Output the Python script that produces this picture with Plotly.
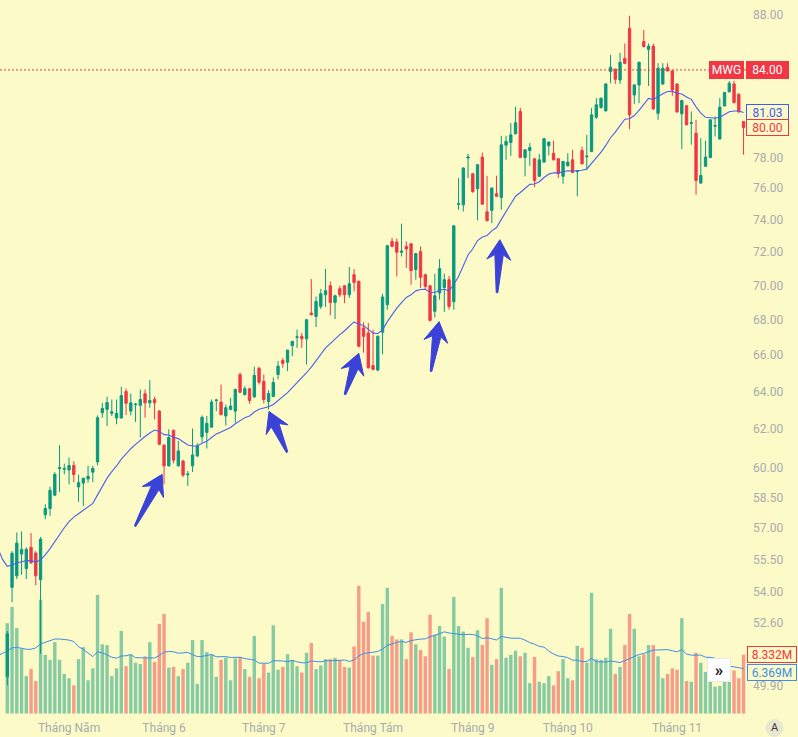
import math
import plotly.graph_objects as go

# ---------------- data ----------------
idx = list(range(156))
open_ = [50.27, 54.22, 54.75, 55.77, 55.09, 56.09, 55.82, 54.57, 57.65, 57.96,
         58.62, 59.96, 59.92, 59.88, 60.11, 59.03, 59.22, 59.43, 59.77, 60.29,
         62.85, 63.03, 62.83, 62.57, 62.57, 63.99, 62.94, 63.28, 63.25, 63.87,
         63.38, 63.56, 62.94, 61.15, 60.09, 61.93, 60.09, 60.34, 59.64, 60.09,
         60.60, 61.58, 61.81, 62.09, 63.50, 63.42, 62.68, 63.03, 62.94, 64.91,
         63.83, 64.14, 63.70, 65.26, 64.54, 63.45, 63.72, 64.92, 65.69, 65.60,
         66.52, 66.99, 67.05, 66.91, 68.38, 68.19, 68.77, 69.45, 69.98, 69.00,
         69.81, 69.98, 69.45, 70.64, 70.24, 67.53, 67.24, 65.42, 65.16, 67.28,
         68.87, 72.66, 72.62, 71.99, 72.35, 72.51, 70.94, 72.03, 70.64, 69.98,
         68.48, 69.55, 69.88, 70.34, 69.04, 74.97, 74.94, 77.97, 76.94, 75.97,
         78.03, 74.50, 74.59, 75.65, 75.41, 78.82, 79.00, 79.58, 81.10, 78.00,
         78.47, 77.92, 76.77, 77.70, 78.78, 78.29, 77.92, 76.77, 77.46, 77.85,
         77.07, 78.47, 78.05, 78.40, 80.71, 81.37, 81.14, 83.88, 84.05, 83.29,
         84.83, 87.01, 82.24, 82.94, 86.04, 85.47, 85.71, 80.97, 83.01, 84.17,
         83.93, 83.01, 80.94, 81.49, 80.29, 79.62, 76.33, 77.42, 78.00, 80.10,
         79.23, 81.48, 82.47, 83.01, 82.29, 80.41]
high = [52.26, 55.91, 56.80, 56.85, 56.09, 56.77, 55.91, 56.58, 58.17, 59.04,
        59.77, 61.15, 60.20, 60.52, 60.33, 59.65, 59.50, 60.09, 60.09, 62.71,
        63.38, 63.71, 63.56, 63.56, 64.25, 64.15, 63.88, 63.38, 64.10, 64.10,
        64.61, 63.71, 62.99, 61.20, 61.98, 61.95, 61.37, 60.40, 59.83, 62.02,
        61.25, 62.71, 62.68, 63.56, 63.60, 64.37, 63.29, 63.65, 64.15, 65.02,
        64.28, 64.20, 65.35, 65.35, 64.92, 64.06, 64.76, 65.66, 65.84, 66.30,
        66.80, 67.43, 67.24, 68.05, 70.38, 69.35, 69.79, 70.98, 70.24, 69.45,
        69.98, 70.02, 71.10, 70.98, 70.30, 67.85, 67.81, 67.43, 67.10, 69.51,
        72.45, 72.87, 72.83, 73.75, 72.66, 72.55, 71.95, 72.35, 70.70, 70.02,
        70.70, 71.58, 70.70, 70.56, 73.65, 76.66, 77.35, 78.24, 76.98, 77.55,
        78.33, 76.81, 76.05, 76.81, 79.45, 79.45, 80.31, 81.43, 81.35, 78.55,
        78.96, 77.95, 78.24, 79.30, 79.05, 79.12, 77.95, 77.78, 78.29, 78.51,
        77.15, 78.73, 79.51, 81.33, 82.02, 82.05, 83.05, 85.07, 84.10, 85.23,
        85.90, 87.93, 83.00, 84.60, 86.89, 85.90, 85.90, 84.48, 84.48, 84.48,
        84.00, 83.05, 81.90, 81.55, 81.10, 80.53, 79.29, 79.12, 80.55, 80.76,
        82.02, 82.45, 83.22, 83.22, 82.35, 80.45]
low = [49.90, 53.54, 54.60, 54.80, 54.60, 55.30, 54.32, 51.26, 57.44, 57.60,
       58.57, 58.78, 59.66, 59.16, 59.27, 58.29, 58.09, 59.24, 59.27, 60.12,
       62.59, 62.15, 62.68, 62.24, 62.57, 62.73, 62.71, 62.36, 61.55, 62.59,
       63.12, 62.50, 61.15, 59.16, 60.05, 60.22, 60.05, 59.53, 59.08, 59.78,
       60.53, 61.29, 60.98, 62.08, 62.94, 62.70, 62.18, 62.98, 62.33, 63.90,
       63.77, 63.33, 63.65, 64.37, 63.35, 63.03, 63.70, 64.65, 65.29, 65.11,
       65.93, 66.40, 66.40, 65.47, 68.25, 67.58, 68.62, 68.73, 68.25, 68.04,
       69.32, 68.96, 69.26, 69.65, 66.42, 66.13, 65.24, 65.15, 65.10, 66.03,
       68.58, 72.30, 70.54, 71.74, 71.04, 70.04, 70.34, 69.85, 69.75, 67.90,
       68.13, 69.16, 68.45, 68.58, 68.58, 74.63, 74.52, 76.66, 75.69, 73.96,
       74.95, 73.90, 73.79, 75.45, 74.63, 77.85, 78.11, 79.55, 77.95, 76.77,
       77.46, 76.07, 76.75, 77.65, 78.14, 77.80, 76.66, 76.29, 77.40, 77.00,
       75.48, 77.55, 77.20, 78.35, 80.58, 81.30, 81.10, 83.06, 83.01, 83.01,
       84.40, 79.90, 81.62, 81.67, 85.60, 82.87, 81.20, 80.53, 82.95, 83.90,
       82.18, 81.00, 78.56, 80.15, 78.85, 75.58, 76.30, 77.40, 77.95, 79.40,
       79.20, 81.45, 82.40, 81.65, 80.98, 78.18]
close = [52.13, 55.81, 56.29, 55.99, 55.99, 55.36, 54.75, 56.48, 57.96, 58.86,
         59.66, 60.00, 59.95, 60.11, 59.65, 59.24, 59.46, 59.56, 59.96, 62.59,
         63.08, 63.40, 62.90, 62.82, 63.77, 63.36, 63.38, 63.31, 63.56, 63.38,
         63.51, 63.38, 61.20, 60.09, 61.55, 60.38, 60.85, 59.62, 59.68, 60.65,
         61.11, 62.61, 62.29, 63.42, 63.53, 62.76, 63.12, 63.21, 64.10, 63.95,
         64.14, 63.51, 64.87, 64.50, 63.56, 63.88, 64.48, 65.38, 65.53, 66.27,
         66.76, 67.02, 66.91, 68.00, 68.29, 69.06, 69.51, 69.69, 69.00, 69.39,
         69.45, 69.45, 70.10, 70.18, 66.49, 67.05, 65.29, 65.20, 67.05, 69.32,
         72.39, 72.35, 71.99, 72.07, 72.19, 70.88, 71.91, 70.48, 69.94, 67.96,
         69.39, 71.00, 70.34, 68.77, 73.62, 75.01, 77.31, 78.03, 75.79, 77.53,
         74.98, 73.94, 76.01, 75.48, 78.84, 79.07, 79.51, 80.33, 78.00, 78.51,
         78.66, 76.50, 77.85, 79.25, 79.03, 77.85, 76.94, 77.74, 77.70, 77.02,
         77.13, 77.59, 78.09, 80.87, 81.56, 82.02, 83.01, 84.19, 83.34, 84.54,
         84.47, 80.87, 82.94, 84.54, 85.68, 85.71, 81.28, 84.12, 84.12, 83.93,
         82.59, 81.07, 81.85, 80.19, 80.33, 76.50, 76.83, 78.03, 80.53, 80.14,
         81.40, 82.41, 83.06, 81.71, 81.09, 80.00]
volume = [12.8, 15.1, 12.1, 9.2, 5.3, 6.3, 4.6, 16.1, 8.3, 7.6,
          10.1, 7.6, 5.6, 5.0, 4.0, 7.7, 9.4, 4.7, 6.4, 16.8,
          9.8, 9.7, 5.3, 6.4, 11.7, 6.7, 8.3, 7.2, 7.0, 8.1,
          10.1, 7.3, 12.7, 14.1, 6.5, 6.6, 5.3, 6.3, 7.2, 10.4,
          4.2, 10.4, 8.7, 8.4, 5.2, 7.6, 7.9, 4.7, 7.8, 8.0,
          6.3, 5.2, 11.0, 5.0, 7.0, 5.8, 12.5, 6.2, 6.6, 8.4,
          7.6, 6.7, 5.8, 8.6, 10.0, 6.3, 6.8, 7.7, 7.7, 7.9,
          7.6, 6.6, 6.5, 9.5, 18.1, 13.0, 14.4, 8.2, 8.2, 15.5,
          17.8, 11.0, 10.5, 10.5, 7.7, 11.5, 9.8, 9.0, 8.1, 14.0,
          11.2, 12.4, 10.9, 6.3, 16.5, 12.4, 11.6, 9.3, 8.0, 11.8,
          9.7, 13.5, 6.9, 7.7, 17.8, 7.9, 8.3, 8.9, 8.1, 8.6,
          4.3, 8.0, 4.5, 4.3, 5.3, 4.0, 6.0, 7.7, 5.0, 4.7,
          9.6, 9.3, 7.2, 17.1, 7.7, 7.6, 7.9, 12.0, 5.6, 6.6,
          9.7, 14.1, 12.0, 8.1, 8.4, 9.7, 9.7, 8.1, 5.0, 5.6,
          6.4, 6.2, 13.5, 4.6, 4.5, 8.6, 7.2, 5.9, 5.2, 3.8,
          3.9, 4.5, 5.2, 6.1, 5.0, 8.332]

# price moving average: EMA(20) of close; values before the first bar (index -2, -1)
EMA_PERIOD = 20
lead_start = -2
ma_lead = [56.05, 55.52]
# volume moving average: SMA(20); values before a full window (index -2..18)
VMA_PERIOD = 20
vol_ma_lead = [8.2, 8.5, 8.85, 9.3, 9.35, 9.25, 9.1, 9.1, 9.3, 9.85, 10.1,
               10.3, 10.55, 10.55, 10.5, 10.4, 10.2, 9.45, 9.1, 8.6, 8.05]

month_ticks = [13, 33, 54, 77, 98, 118, 141]
month_labels = ["Tháng Năm", "Tháng 6", "Tháng 7", "Tháng Tám", "Tháng 9", "Tháng 10", "Tháng 11"]
price_ticks = [49.9, 52.6, 54, 55.5, 57, 58.5, 60, 62, 64, 66, 68, 70, 72, 74, 76, 78, 88]

alert_price = 84.00
symbol = "MWG"
ma_label = "81.03"
vol_label = "8.332M"
vol_ma_label = "6.369M"

# arrow annotations: tip and tail (bar index, price)
arrow_tips = [(32.6, 59.66), (55.1, 62.92), (74.0, 66.09), (90.9, 67.89), (103.7, 72.76)]
arrow_tails = [(26.9, 57.10), (58.9, 60.79), (71.1, 63.83), (89.2, 65.09), (103.1, 69.57)]

# ---------------- style / layout constants ----------------
W, H = 798, 737
PLOT_W, PLOT_H = 752, 715
X_MIN, X_MAX = -1.537, 156.78
P_BOT, P_TOP = 48.67, 89.12
V_MIN, V_MAX = -0.21, 101.06
BG = "#FCFAC6"
UP, DOWN = "#089981", "#F23645"
UP_V, DOWN_V = "rgba(8,153,129,0.48)", "rgba(242,54,69,0.48)"
MA_COLOR = "#4A5FF0"
VMA_COLOR = "#3C8EE8"
ARROW_COLOR = "#3A42D8"
AXIS_TXT = "#A9ABB0"
FONT = "Roboto"

# ---------------- derived series ----------------
def sma(vals, n):
    return [sum(vals[i - n + 1:i + 1]) / n for i in range(n - 1, len(vals))]

def ema(vals, n, prev):
    a = 2.0 / (n + 1)
    out = []
    for v in vals:
        prev = prev + a * (v - prev)
        out.append(prev)
    return out

ma_x = list(range(lead_start, 0)) + idx
ma_y = ma_lead + ema(close, EMA_PERIOD, ma_lead[-1])
vma_x = list(range(lead_start, VMA_PERIOD - 1)) + list(range(VMA_PERIOD - 1, len(volume)))
vma_y = vol_ma_lead + sma(volume, VMA_PERIOD)
vol_colors = [UP_V if c >= o else DOWN_V for o, c in zip(open_, close)]

fig = go.Figure()

fig.add_trace(go.Bar(x=idx, y=volume, marker=dict(color=vol_colors, line=dict(width=0)),
                     width=0.72, xaxis="x", yaxis="y", hoverinfo="skip"))
fig.add_trace(go.Scatter(x=vma_x, y=vma_y, mode="lines", line=dict(color=VMA_COLOR, width=1),
                         xaxis="x", yaxis="y", hoverinfo="skip"))

fig.add_trace(go.Scatter(x=[X_MIN, X_MAX], y=[alert_price, alert_price], mode="lines",
                         line=dict(color=DOWN, width=1, dash="2px,2px"),
                         xaxis="x", yaxis="y2", hoverinfo="skip"))
fig.add_trace(go.Candlestick(x=idx, open=open_, high=high, low=low, close=close,
                             increasing=dict(line=dict(color=UP, width=1), fillcolor=UP),
                             decreasing=dict(line=dict(color=DOWN, width=1), fillcolor=DOWN),
                             whiskerwidth=0, xaxis="x", yaxis="y2", hoverinfo="skip"))
fig.add_trace(go.Scatter(x=ma_x, y=ma_y, mode="lines", line=dict(color=MA_COLOR, width=1.1),
                         xaxis="x", yaxis="y2", hoverinfo="skip"))

# arrows drawn as filled polygons, geometry in screen pixels converted through the axis scales
SX = PLOT_W / (X_MAX - X_MIN)
LT, LB = math.log10(P_TOP), math.log10(P_BOT)
SY = PLOT_H / (LT - LB)

def to_px(i, p):
    return (i - X_MIN) * SX, (LT - math.log10(p)) * SY

def from_px(X, Y):
    return X / SX + X_MIN, 10 ** (LT - Y / SY)

HEAD_LEN, HEAD_HALF, NECK_LEN, NECK_HALF, TAIL_HALF = 20, 12, 15, 4.2, 0.8
for tip, tail in zip(arrow_tips, arrow_tails):
    tx, ty = to_px(*tip)
    bx, by = to_px(*tail)
    L = math.hypot(tx - bx, ty - by)
    ux, uy = (tx - bx) / L, (ty - by) / L
    nx, ny = -uy, ux
    pts = [
        (tx, ty),
        (tx - ux * HEAD_LEN - nx * HEAD_HALF, ty - uy * HEAD_LEN - ny * HEAD_HALF),
        (tx - ux * NECK_LEN - nx * NECK_HALF, ty - uy * NECK_LEN - ny * NECK_HALF),
        (bx - nx * TAIL_HALF, by - ny * TAIL_HALF),
        (bx + nx * TAIL_HALF, by + ny * TAIL_HALF),
        (tx - ux * NECK_LEN + nx * NECK_HALF, ty - uy * NECK_LEN + ny * NECK_HALF),
        (tx - ux * HEAD_LEN + nx * HEAD_HALF, ty - uy * HEAD_LEN + ny * HEAD_HALF),
        (tx, ty),
    ]
    dat = [from_px(X, Y) for X, Y in pts]
    fig.add_trace(go.Scatter(x=[d[0] for d in dat], y=[d[1] for d in dat], mode="lines",
                             fill="toself", fillcolor=ARROW_COLOR,
                             line=dict(color=ARROW_COLOR, width=1),
                             xaxis="x", yaxis="y2", hoverinfo="skip"))

# ---------------- labels ----------------
def px_x(X):
    return X / W

def paper_y(Y):
    return (PLOT_H - Y) / PLOT_H

anns = [
    dict(text=symbol, x=px_x(726.5), y=math.log10(alert_price), xref="paper", yref="y2",
         bgcolor=DOWN, bordercolor=DOWN, borderwidth=1, borderpad=1, width=31, height=14,
         font=dict(color="white", size=12, family=FONT)),
    dict(text=f"{alert_price:.2f}", x=px_x(767), y=math.log10(alert_price), xref="paper", yref="y2",
         bgcolor=DOWN, bordercolor=DOWN, borderwidth=1, borderpad=1, width=39, height=14,
         font=dict(color="white", size=12, family=FONT)),
    dict(text=ma_label, x=px_x(767.5), y=math.log10(float(ma_label)), xref="paper", yref="y2",
         bgcolor=BG, bordercolor="#3F5BF0", borderwidth=1, borderpad=1, width=39, height=13,
         font=dict(color="#3F5BF0", size=12, family=FONT)),
    dict(text=f"{close[-1]:.2f}", x=px_x(767.5), y=math.log10(close[-1]), xref="paper", yref="y2",
         bgcolor=BG, bordercolor=DOWN, borderwidth=1, borderpad=1, width=39, height=13,
         font=dict(color=DOWN, size=12, family=FONT)),
    dict(text=vol_label, x=px_x(772), y=volume[-1], xref="paper", yref="y",
         bgcolor=BG, bordercolor=DOWN, borderwidth=1, borderpad=1, width=46, height=13,
         font=dict(color=DOWN, size=12, family=FONT)),
    dict(text=vol_ma_label, x=px_x(772), y=float(vol_ma_label[:-1]), xref="paper", yref="y",
         yshift=-3.5, bgcolor=BG, bordercolor=VMA_COLOR, borderwidth=1, borderpad=1, width=46, height=13,
         font=dict(color=VMA_COLOR, size=12, family=FONT)),
    dict(text="<b>»</b>", x=px_x(718.5), y=paper_y(670), xref="paper", yref="paper",
         bgcolor="white", bordercolor="#E8E8E8", borderwidth=1, borderpad=1, width=20, height=20,
         font=dict(color="#131722", size=17, family=FONT)),
    dict(text="A", x=px_x(774.5), y=paper_y(728), xref="paper", yref="paper",
         font=dict(color="#3A3A3A", size=11, family=FONT)),
]
for a in anns:
    a.setdefault("showarrow", False)
    a.setdefault("xanchor", "center")
    a.setdefault("yanchor", "middle")

shapes = [dict(type="circle", xref="paper", yref="paper",
               x0=px_x(765.5), x1=px_x(783.5), y0=paper_y(737), y1=paper_y(719),
               fillcolor="#E9E7D0", line=dict(width=0), layer="below")]

fig.update_layout(
    width=W, height=H, margin=dict(l=0, r=0, t=0, b=H - PLOT_H),
    paper_bgcolor=BG, plot_bgcolor=BG, showlegend=False, dragmode=False,
    font=dict(family=FONT, size=12, color=AXIS_TXT),
    xaxis=dict(domain=[0, PLOT_W / W], range=[X_MIN, X_MAX], tickvals=month_ticks, ticktext=month_labels,
               showgrid=False, zeroline=False, showline=False, ticks="outside", ticklen=2,
               tickcolor="rgba(0,0,0,0)", tickfont=dict(size=12, color=AXIS_TXT, family=FONT),
               rangeslider=dict(visible=False), fixedrange=True),
    yaxis=dict(range=[V_MIN, V_MAX], visible=False, showgrid=False, zeroline=False, fixedrange=True),
    yaxis2=dict(type="log", range=[LB, LT], overlaying="y", side="right", anchor="x",
                tickvals=price_ticks, ticktext=[f"{v:.2f}" for v in price_ticks],
                showgrid=False, zeroline=False, showline=False, ticks="",
                tickfont=dict(size=12, color=AXIS_TXT, family=FONT), fixedrange=True),
    annotations=anns, shapes=shapes,
)

fig.write_html("out.html", config={"displayModeBar": False, "staticPlot": True})
